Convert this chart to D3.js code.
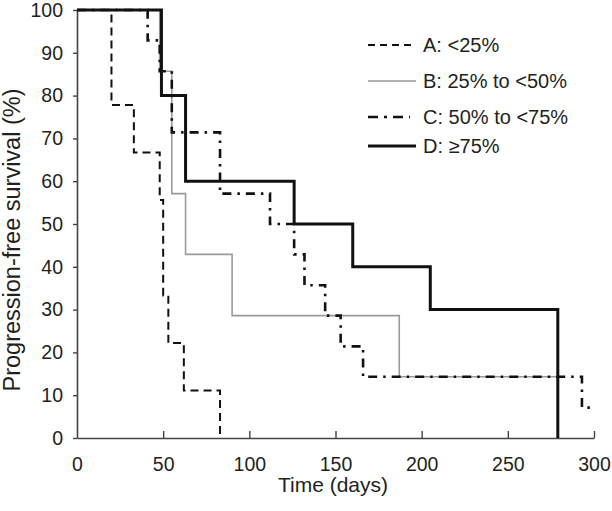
<!DOCTYPE html>
<html>
<head>
<meta charset="utf-8">
<script src="https://cdn.jsdelivr.net/npm/d3@7"></script>
<style>
  html, body { margin: 0; padding: 0; background: #fff; }
  svg { display: block; }
  text { font-family: "Liberation Sans", Arial, Helvetica, sans-serif; fill: #231f20; }
</style>
</head>
<body>
<svg id="chart" width="612" height="511"></svg>
<script>
// ---- data (Kaplan-Meier steps) ----
const groupNames = ["A: <25%", "B: 25% to <50%", "C: 50% to <75%", "D: \u226575%"];

const timesA = [0, 20, 33, 48, 50, 53, 62, 83];
const survA  = [100, 77.8, 66.7, 55.6, 33.3, 22.2, 11.1, 0];

const timesB = [0, 48, 55, 63, 90, 187, 280];
const survB  = [100, 85.7, 57.1, 42.9, 28.6, 14.3, 14.3];

const timesC = [0, 41, 48, 55, 83, 112, 126, 132, 144, 153, 166, 293, 298];
const survC  = [100, 92.9, 85.7, 71.4, 57.1, 50, 42.9, 35.7, 28.6, 21.4, 14.3, 7.1, 7.1];

const timesD = [0, 49, 63, 126, 160, 205, 279];
const survD  = [100, 80, 60, 50, 40, 30, 0];

const xTicks = [0, 50, 100, 150, 200, 250, 300];
const yTicks = [0, 10, 20, 30, 40, 50, 60, 70, 80, 90, 100];

const xTitle = "Time (days)";
const yTitle = "Progression-free survival (%)";

// ---- styles ----
const styles = [
  { color: "#111", width: 2, dash: "8,5" },
  { color: "#9a9a9a", width: 1.6, dash: null },
  { color: "#111", width: 2.6, dash: "9,6,2.5,6" },
  { color: "#111", width: 3, dash: null }
];

const svg = d3.select("#chart");
const x = d3.scaleLinear().domain([0, 300]).range([77, 594]);
const y = d3.scaleLinear().domain([0, 100]).range([438, 10]);

// axes
const axisColor = "#444";
const yAxis = svg.append("g").attr("transform", `translate(${x(0)},0)`)
  .call(d3.axisLeft(y).tickValues(yTicks).tickSize(4).tickSizeOuter(0).tickPadding(10));
const xAxis = svg.append("g").attr("transform", `translate(0,${y(0)})`)
  .call(d3.axisBottom(x).tickValues(xTicks).tickSize(-7).tickSizeOuter(0).tickPadding(19));
[xAxis, yAxis].forEach(g => {
  g.select(".domain").attr("stroke", axisColor).attr("stroke-width", 1.6);
  g.selectAll(".tick line").attr("stroke", axisColor).attr("stroke-width", 1.4);
  g.selectAll("text").attr("font-size", 19.5).attr("fill", "#231f20")
    .attr("font-family", "'Liberation Sans', Arial, sans-serif");
});
xAxis.selectAll(".tick").filter(d => d === 0).select("line").remove();

// titles
svg.append("text").attr("x", 333).attr("y", 492)
  .attr("text-anchor", "middle").attr("font-size", 21).text(xTitle);
svg.append("text").attr("transform", `translate(20,240) rotate(-90)`)
  .attr("text-anchor", "middle").attr("font-size", 23.5).text(yTitle);

// curves
const series = [
  [timesA, survA], [timesB, survB], [timesC, survC], [timesD, survD]
];
const line = d3.line().x(d => x(d[0])).y(d => y(d[1])).curve(d3.curveStepAfter);
const order = [1, 0, 2, 3];
order.forEach(i => {
  const [t, s] = series[i];
  const pts = t.map((v, k) => [v, s[k]]);
  svg.append("path").datum(pts).attr("d", line)
    .attr("fill", "none")
    .attr("stroke", styles[i].color)
    .attr("stroke-width", styles[i].width)
    .attr("stroke-dasharray", styles[i].dash)
    .attr("stroke-linejoin", "miter");
});

// legend
const legY = [45, 81, 117, 146];
const leg = svg.append("g");
groupNames.forEach((name, i) => {
  const s = styles[i];
  leg.append("line").attr("x1", 368).attr("x2", i === 2 ? 410 : 416)
    .attr("y1", legY[i]).attr("y2", legY[i])
    .attr("stroke", s.color).attr("stroke-width", s.width)
    .attr("stroke-dasharray", i === 0 ? "7,5" : (i === 2 ? "10,6,3,6" : null));
  leg.append("text").attr("x", 423).attr("y", legY[i]).attr("dy", "0.36em")
    .attr("font-size", 20).text(name);
});
</script>
</body>
</html>
